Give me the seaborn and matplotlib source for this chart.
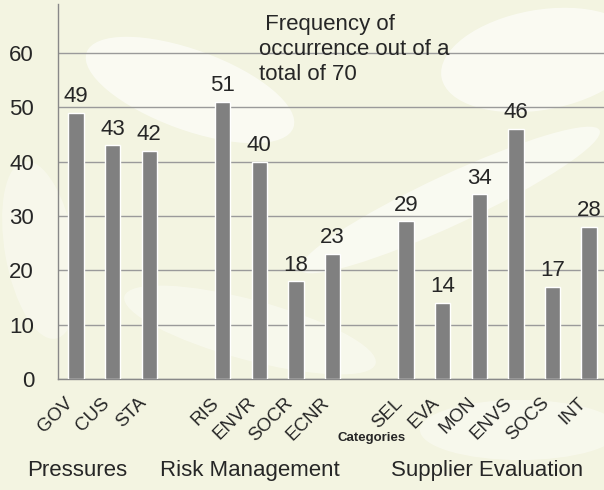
import numpy as np
import pandas as pd
import matplotlib
matplotlib.use("Agg")
import matplotlib.pyplot as plt
from matplotlib.patches import Ellipse
import seaborn as sns

# Frequency of occurrence (out of 70) per category
categories = ["GOV", "CUS", "STA",
              "RIS", "ENVR", "SOCR", "ECNR",
              "SEL", "EVA", "MON", "ENVS", "SOCS", "INT"]
counts = [49, 43, 42, 51, 40, 18, 23, 29, 14, 34, 46, 17, 28]
groups = ["Pressures"] * 3 + ["Risk Management"] * 4 + ["Supplier Evaluation"] * 6
group_names = ["Pressures", "Risk Management", "Supplier Evaluation"]

df = pd.DataFrame({"category": categories, "count": counts, "group": groups})

# category order with an empty slot between groups
order = []
for i, g in enumerate(group_names):
    if i > 0:
        order.append(f"_gap{i}")
    order += df.loc[df["group"] == g, "category"].tolist()

sns.set_style("white")
plt.rcParams["font.family"] = ["Liberation Sans", "DejaVu Sans"]

W, H = 604, 490
bg = "#f3f4e1"
fig = plt.figure(figsize=(W / 100, H / 100), dpi=100, facecolor=bg)

# soft white swirls in the background (own axes, behind the chart)
bgax = fig.add_axes([0, 0, 1, 1], zorder=-1)
bgax.set_xlim(0, W)
bgax.set_ylim(H, 0)
bgax.axis("off")
for (cx, cy, w, h, ang, a) in [(190, 90, 220, 80, -20, 0.6), (540, 60, 200, 100, 10, 0.6),
                               (450, 200, 330, 50, 25, 0.55), (250, 330, 260, 60, -15, 0.4),
                               (520, 430, 200, 60, 0, 0.4), (40, 250, 70, 180, 10, 0.35)]:
    bgax.add_patch(Ellipse((cx, cy), w, h, angle=-ang, facecolor="white",
                           edgecolor="none", alpha=a))

ax = fig.add_axes([57.7 / W, 1 - 379 / H, 549.8 / W, 375 / H], zorder=2)
ax.set_facecolor("none")

sns.barplot(data=df, x="category", y="count", order=order, color="#808080",
            saturation=1, width=0.42, ax=ax, zorder=3)
ax.bar_label(ax.containers[0], padding=4, fontsize=16)

ax.set_xlim(-0.5, len(order) - 0.5)
ax.set_ylim(0, 69)
ax.set_yticks(np.arange(0, 61, 10))
ax.yaxis.grid(True, color="#9a9a9a", linewidth=1)
ax.set_axisbelow(True)

ax.set_xticks(range(len(order)))
ax.set_xticklabels([c if not c.startswith("_gap") else "" for c in order],
                   rotation=45, ha="right")
ax.set_xticks(np.arange(-0.5, len(order), 1), minor=True)
ax.tick_params(axis="x", which="major", length=0, pad=11, labelsize=13.5)
ax.tick_params(axis="x", which="minor", length=5, color="#888888", width=1)
ax.tick_params(axis="y", length=7, color="#888888", width=1, pad=10, labelsize=16)

for s in ["top", "right"]:
    ax.spines[s].set_visible(False)
for s in ["left", "bottom"]:
    ax.spines[s].set_color("#888888")
    ax.spines[s].set_linewidth(1)

ax.set_xlabel("")
ax.set_ylabel("")

fig.text(259 / W, 1 - 14 / H, " Frequency of\noccurrence out of a\ntotal of 70",
         ha="left", va="top", fontsize=16, linespacing=1.25)
fig.text(372 / W, 1 - 438 / H, "Categories", ha="center", va="center",
         fontsize=9.5, fontweight="bold")
for x, name in zip([77, 250, 487], group_names):
    fig.text(x / W, 1 - 470 / H, name, ha="center", va="center", fontsize=16)

fig.savefig("out.png", dpi=100, facecolor=bg)
